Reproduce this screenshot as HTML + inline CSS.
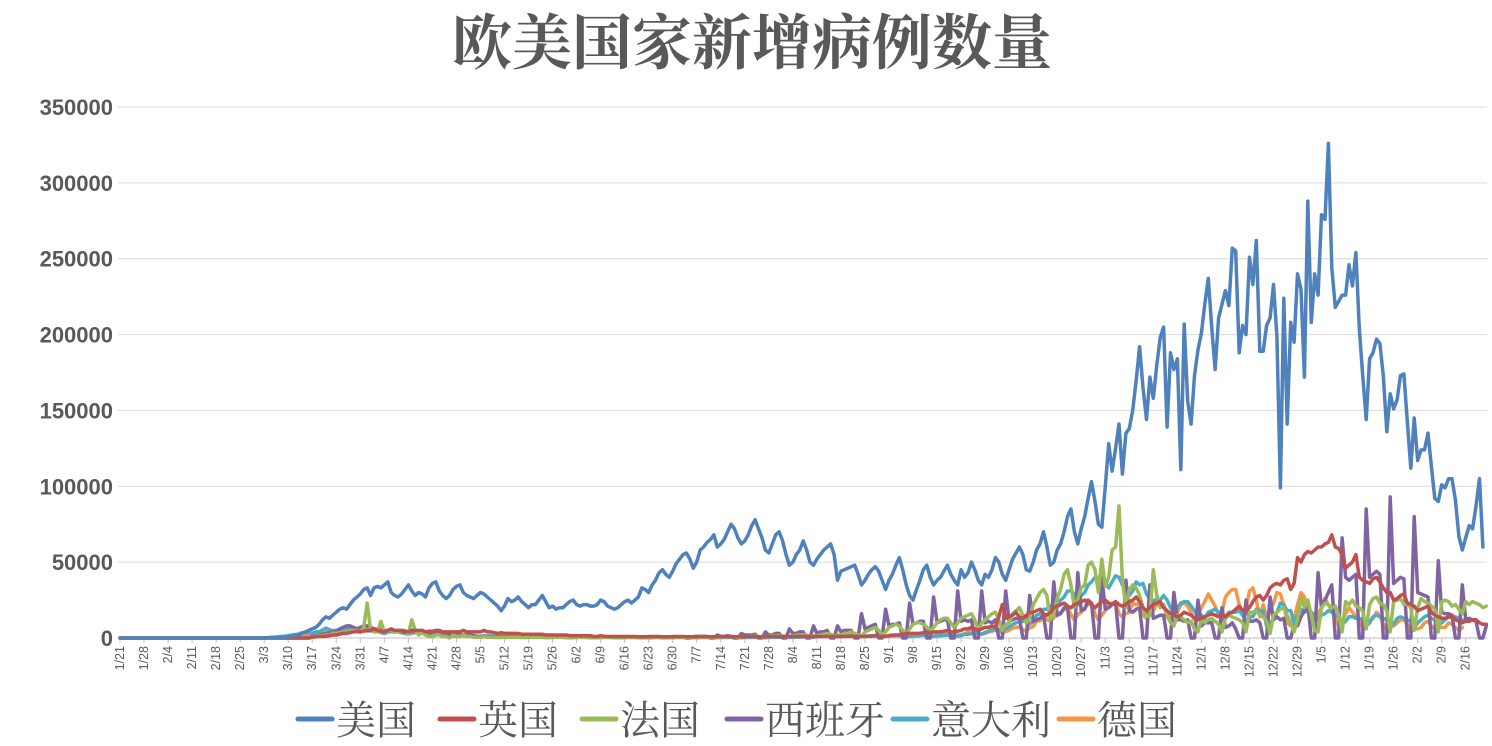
<!DOCTYPE html>
<html><head><meta charset="utf-8">
<style>
html,body{margin:0;padding:0;background:#fff;}
#wrap{position:relative;width:1492px;height:746px;overflow:hidden;font-family:"Liberation Sans","Noto Sans CJK SC",sans-serif;}
svg text{fill:#595959;}
</style></head>
<body>
<div id="wrap">
<svg id="chart" width="1492" height="746" xmlns="http://www.w3.org/2000/svg">
<text x="752" y="64" text-anchor="middle" font-family="'Noto Serif CJK SC','Liberation Serif',serif" font-weight="700" font-size="60">欧美国家新增病例数量</text>
<g id="grid"></g>
<g id="yaxis"></g>
<g id="xaxis"></g>
<g id="series"></g>
<g id="legend"></g>
</svg>
</div>
<script>
// tick labels
const yTicks=[0,50000,100000,150000,200000,250000,300000,350000];
const xTickLabels=["1/21","1/28","2/4","2/11","2/18","2/25","3/3","3/10","3/17","3/24","3/31","4/7","4/14","4/21","4/28","5/5","5/12","5/19","5/26","6/2","6/9","6/16","6/23","6/30","7/7","7/14","7/21","7/28","8/4","8/11","8/18","8/25","9/1","9/8","9/15","9/22","9/29","10/6","10/13","10/20","10/27","11/3","11/10","11/17","11/24","12/1","12/8","12/15","12/22","12/29","1/5","1/12","1/19","1/26","2/2","2/9","2/16"];
const seriesNames=["美国","英国","法国","西班牙","意大利","德国"];
// daily values in thousands
const usa=[0,0,0,0,0,0,0, 0,0,0,0,0,0,0, 0,0,0,0,0,0,0, 0,0,0,0,0,0,0, 0,0,0,0,0,0,0, 0,0,0,0,0,0,0,
0,0.1,0.2,0.3,0.4,0.5,0.6, 1,1,1.5,2,3,4,5, 6,7,9,12,14,13,15,
17,19,20,19,22,25,27, 29,32,33,28,33,34,33, 35,37,30,28,27,29,32, 35,31,28,30,29,27,33,
36,37,31,28,26,28,32, 34,35,30,28,27,26,28, 30,29,27,25,23,21,18, 21,26,24,25,27,24,22,
20,22,22,25,28,24,20, 21,19,20,20,22,24,25, 22,21,22,22,21,21,22, 25,24,21,20,19,20,22,
24,25,23,25,27,33,32, 30,35,38,43,45,42,40, 44,49,52,55,56,52,46, 50,58,60,63,65,68,60,
62,65,70,75,72,66,62, 64,68,74,78,72,66,58, 56,62,68,70,64,55,48, 50,55,58,64,58,50,48,
52,55,58,60,62,55,38, 44,45,46,47,48,42,35, 38,42,45,47,44,38,32, 38,42,48,53,45,35,28,
25,32,38,45,48,40,35, 38,40,44,48,42,38,35, 45,40,43,50,45,38,35, 42,40,45,53,50,42,38,
45,52,56,60,55,45,44, 50,58,62,70,60,48,50, 58,62,70,80,85,70,62, 72,80,92,103,90,75,73,
100,128,110,125,141,108,135,138,150,170,192,165,144,172,158,180,198,205,139,188,177,184,111,207,156,141,173,190,201,220,237,205,177,211,220,
229,219,257,255,188,206,200,251,233,262,189,189,206,211,233,199,99,224,141,208,195,240,230,172,288,208,240,226,279,276,326,244,218,222,
226,226,246,232,254,204,173,144,184,188,197,194,173,136,161,151,157,173,174,142,112,145,117,124,124,135,113,92,90,101,99,105,105,91,67,58,66,74,72,87,105,60];
const uk=[0,0,0,0,0,0,0, 0,0,0,0,0,0,0, 0,0,0,0,0,0,0, 0,0,0,0,0,0,0, 0,0,0,0,0,0,0, 0,0,0,0,0,0,0, 0,0,0,0,0,0,0, 0,0,0,0,0,0,0,
0.5,0.7,1,1,1.2,1.5,2, 2,2.5,3,3,3.5,4,4.5, 4,4.5,5,5,6,5,4.5, 4,5,6,5,5,5,4.5, 4,5,5,5,5,4,4.5, 4.5,5,5,4,4,4,4, 4,4,5,4,4,4,4,
4,5,4,4,3.5,3,3.5, 3,3,3,3,3,2.5,2.5, 2.5,2.5,2.5,2.5,2.5,2,2, 2,2,2,2,2,1.5,1.5, 1.5,1.5,1.5,1.5,1.5,1,1, 1.5,1.2,1,1,1,1,1,
1,1,1,1,0.8,0.8,0.8, 1,1,1,1,0.8,0.8,0.8, 1,1,1,1,0.8,0.8,0.8, 1,1,1,1,0.8,0.8,0.8, 1,1,1,1,0.8,0.8,0.8, 1,1,1,1,0.8,0.8,0.8,
1,1,1,1,1,1,1, 1,1,1,1,1,1,1, 1,1,1,1,1,1,1, 1,1,1.2,1.2,1,1,1, 1,1.2,1.2,1.5,1.2,1,1.2,
1.5,2,2,2,2.5,3,3, 3,3,3,3.5,4,3.5,4, 4,4,4.5,5,4,4,4.5, 5,6,6,7,6,5,6, 7,7,8,7,14,22,13, 14,15,17,14,13,15,17,
17,18,19,16,15,17,20, 21,22,23,21,20,22,23, 24,25,24,22,20,22,24, 25,23,22,24,22,21,22, 24,25,27,24,20,18,20, 22,23,24,20,18,16,15,
14,15,17,16,15,13,12, 13,14,15,16,15,14,15, 14,16,17,19,21,18,20, 20,24,27,28,25,28,33, 35,36,35,38,39,32,36, 53,50,55,57,56,58,60,
60,62,63,68,60,59,55, 46,48,50,55,40,38,37, 36,39,40,37,33,30,30, 25,26,28,29,23,22,21, 18,19,20,21,17,15,14, 13,13,14,15,12,11,10, 11,11,12,12,10,9,9];
const france=[0,0,0,0,0,0,0, 0,0,0,0,0,0,0, 0,0,0,0,0,0,0, 0,0,0,0,0,0,0, 0,0,0,0,0,0,0, 0,0,0,0,0,0,0, 0,0,0,0,0,0,0, 0,0,0,0,0,0,0,
0.5,1,1.5,1.5,2,2,3, 3,3.5,4,4,4.5,5,5, 4,7,23,5,4,4,11, 4,5,5,4,4,5,5, 3,12,5,2,4,2,1, 1,2,2,1,1,0,2, 1,1,2,1,1,0.5,0.5,
0.5,0.8,0.5,0.5,0.5,0.3,0.3, 0.5,0.5,0.5,0.5,0.5,0.3,0.3, 0.5,0.5,0.5,0.5,0.5,0.3,0.3, 0.5,0.5,0.5,0.5,0.5,0.3,0.3, 0.5,0.5,0.5,0.5,0.5,0.3,0.3,
0.5,0.5,0.5,0.5,0.5,0.3,0.3, 0.5,0.5,0.5,0.5,0.5,0.3,0.3, 0.5,0.5,0.5,0.5,0.5,0.3,0.3, 0.5,0.5,0.5,0.5,0.5,0.3,0.3, 0.5,0.6,0.6,0.6,0.6,0.3,0.4,
0.6,0.8,0.8,1,0.8,0.4,0.6, 1,1,1.2,1.3,1,0.5,0.8, 1.2,1.4,1.5,1.6,1.4,0.8,1, 1.5,1.8,2,2.2,2,1,1.5, 1.5,2,2.5,2.8,2.5,1.2,2,
2,3,3,4,3,2,1, 4,5,6,7,5,2,4, 7,8,9,8,5,3,6, 9,10,10,9,7,5,7, 10,12,13,13,10,7,10, 13,14,15,16,12,5,10, 12,14,16,17,12,5,9,
10,16,18,20,15,10,13, 22,26,30,32,28,12,16, 26,32,42,45,35,20,26, 33,35,48,50,45,30,52, 34,40,58,60,87,38,20, 32,35,33,28,20,14,15,
45,28,20,22,16,10,8, 15,14,12,10,11,6,4, 12,10,12,13,11,9,4, 13,15,14,13,12,10,4, 17,17,18,15,14,11,3, 15,17,19,20,15,10,4,
12,27,20,25,15,5,4, 20,23,22,20,21,15,4, 24,22,25,21,20,18,6, 22,26,27,23,22,18,4, 24,25,26,22,23,20,5, 20,26,24,23,21,19,4, 24,25,24,21,22,19,16, 24,22,24,23,22,20,21];
const spain=[0,0,0,0,0,0,0, 0,0,0,0,0,0,0, 0,0,0,0,0,0,0, 0,0,0,0,0,0,0, 0,0,0,0,0,0,0, 0,0,0,0,0,0,0, 0,0,0,0,0,0,0, 0,0,0,0,0,0,0,
1,1.5,2,2.5,3,3.5,4, 4,6,7,8,8,7,6, 7,8,8,7,6,5,6, 5,5,5,5,4,4,4, 4,5,4,4,3,3,3, 4,4,4,3,3,2,2, 2,2,2,2,2,1.5,1,
1,1,1,1,0.8,0.8,1, 1,1,1,1,0.8,0.8,1, 0.8,0.8,0.8,0.8,0.5,0.5,0.8, 0.5,0.5,0.5,0.5,0.3,0.3,0.5, 0.5,0.5,0.5,0.5,0.3,0.3,0.5, 0.5,0.5,0.5,0.5,0.3,0.3,0.5,
0.5,0.5,0.5,0.5,0.3,0.3,0.5, 0.5,0.5,0.5,0.5,0.3,0.3,0.8, 0.5,0.6,0.7,0.8,0,0,1, 1,1,1,1,0,0,2, 1,1,1.5,1,0,0,3, 2,2,2,2.5,0,0,4,
2,2,3,3,0,0,6, 3,3,4,4,0,0,8, 3,4,4,5,0,0,8, 4,5,5,5,0,0,16, 6,7,8,9,0,0,19, 8,9,9,10,0,0,23, 9,10,11,11,0,0,27, 10,11,12,12,0,0,31,
11,12,11,12,0,0,31, 10,11,10,12,0,0,31, 11,12,13,13,0,0,28, 11,12,13,15,0,0,37, 15,16,20,20,0,0,43, 18,19,25,23,0,0,40, 19,20,22,23,0,0,38,
18,17,19,20,0,0,35, 13,14,15,15,0,0,30, 12,12,11,12,0,0,25, 8,10,10,10,0,0,20, 7,8,10,6,0,0,25, 11,11,12,10,0,0,27, 12,14,12,13,0,0,8,
8,14,18,22,0,0,43, 20,25,30,35,0,0,66, 40,38,40,42,0,0,85, 40,42,44,42,0,0,93, 36,38,40,39,0,0,80, 30,29,28,27,0,0,51, 17,16,16,15,0,0,35, 12,13,12,11,0,0,8];
const italy=[0,0,0,0,0,0,0, 0,0,0,0,0,0,0, 0,0,0,0,0,0,0, 0,0,0,0,0,0,0, 0,0,0,0,0,0,0, 0,0,0,0,0,0,0,
0.1,0.2,0.5,0.5,0.8,1,1.2, 1.5,2,2.3,2.6,3.5,3.6,3.5, 3.2,4,4.2,5.3,6.5,5.5,4.8, 5.2,5.2,6,6.2,5.9,5.2,4, 4,4.8,4.6,4.8,4.3,4.3,3.6,
3,3.8,4.2,3.9,4.7,3.9,3.1, 2.9,3.8,3.5,3.5,3.1,3.4,3, 2.3,2.7,3.4,3,2.8,2.3,2.3, 2.1,2.1,1.9,1.9,1.9,1.4,1.2, 1.1,1.4,1.4,1.3,1.1,0.8,0.7,
0.9,0.9,0.9,0.8,0.9,0.7,0.5, 0.6,0.6,0.6,0.6,0.5,0.4,0.3, 0.5,0.5,0.5,0.4,0.4,0.3,0.3, 0.4,0.4,0.4,0.3,0.3,0.3,0.2, 0.3,0.3,0.3,0.3,0.3,0.2,0.2,
0.3,0.3,0.3,0.3,0.3,0.2,0.2, 0.2,0.2,0.3,0.3,0.2,0.2,0.2, 0.2,0.3,0.3,0.3,0.2,0.2,0.2, 0.2,0.3,0.3,0.3,0.3,0.2,0.2, 0.3,0.3,0.4,0.3,0.3,0.3,0.2,
0.3,0.3,0.4,0.4,0.3,0.3,0.2, 0.4,0.4,0.5,0.5,0.5,0.4,0.3, 0.5,0.6,0.6,0.8,0.7,0.6,0.5, 0.8,1,1,1.1,1.2,1,0.9, 1,1.2,1.4,1.3,1.1,1.1,1,
1.3,1.4,1.6,1.7,1.6,1.3,1, 1.4,1.5,1.6,1.6,1.5,1.3,1, 1.2,1.5,1.6,1.9,1.6,1.4,1, 1.4,1.6,1.8,1.9,1.9,1.8,1.3, 1.6,2.5,2.5,2.8,3.5,3,2.5,
3.7,4.5,5.4,5.7,5.4,4.6,5.9, 7.3,8.8,10,10.9,10.9,11.7,9.3, 11,15,16,19,19,21,17, 22,25,27,31,31,29,22, 28,30,35,37,40,39,33,
36,33,37,41,40,35,32, 28,31,37,35,36,29,26, 24,26,25,28,25,20,17, 20,23,24,24,21,18,14, 15,13,17,18,19,17,12, 14,17,17,17,18,15,11,
14,14,19,18,18,8,10, 12,17,23,22,18,18,10, 15,19,17,18,17,15,12, 15,16,18,17,15,14,9, 11,14,14,13,13,12,8, 10,14,15,14,13,12,8,
9,13,14,13,12,11,7, 10,12,14,15,13,12,9, 10,12,14,13,14,13,12];
const germany=[0,0,0,0,0,0,0, 0,0,0,0,0,0,0, 0,0,0,0,0,0,0, 0,0,0,0,0,0,0, 0,0,0,0,0,0,0, 0,0,0,0,0,0,0, 0,0,0,0,0,0,0,
0.5,0.8,1,1.3,1.6,2,2.5, 1.5,2,3,3.5,4,5.5,4, 4.8,5,6,6.3,6.9,6.8,4.8, 4.9,6.2,6.6,6.1,6.1,5.9,3.7, 4,5,4.9,4.7,3.9,3.5,2.9,
2.5,2.9,3.7,3.4,3.6,2.5,1.8, 1.9,2.2,2.4,2.3,2,1.7,1.2, 1.3,1.5,1.6,1.5,1.2,0.9,0.6, 0.7,1.2,1.2,1,0.9,0.7,0.4,
0.6,0.9,0.9,0.8,0.7,0.5,0.4, 0.6,0.8,0.7,0.7,0.6,0.4,0.3, 0.5,0.7,0.6,0.6,0.5,0.4,0.3, 0.4,0.6,0.7,1,0.8,0.5,0.4, 0.5,0.6,0.6,0.6,0.5,0.4,0.3,
0.5,0.6,0.6,0.7,0.5,0.3,0.3, 0.4,0.6,0.6,0.6,0.5,0.3,0.3, 0.5,0.6,0.7,0.7,0.6,0.4,0.3, 0.5,0.6,0.7,0.8,0.6,0.4,0.4, 0.6,0.8,0.9,1,0.8,0.5,0.5,
0.7,1,1.1,1.2,1,0.6,0.7, 0.9,1.2,1.4,1.5,1.2,0.8,0.9, 1,1.4,1.6,1.7,1.4,0.9,1, 1.1,1.5,1.7,1.6,1.3,0.8,1, 1,1.5,1.5,1.5,1.2,0.7,1,
1.2,1.3,1.5,1.4,1.3,0.8,1.1, 1.5,1.5,1.9,2,1.4,0.9,1.3, 1.7,2,2.2,2.1,1.8,1.1,1.6, 2.2,2.4,2.5,2.9,2,1.4,2, 2.1,2.8,4,4.5,3.5,2.5,2.5,
3,4,4.5,5,4.5,3.5,4.2, 5.1,6.6,7,7.3,5.6,4.3,6.8, 7.6,11,11.3,14.6,12,11.2,13.4, 14.9,16.8,18.7,20.1,15.6,11.7,15.4, 17,20,22,23,16,12,15,
18,22,23,23,16,14,16, 17,23,22,23,15,13,15, 18,22,23,22,14,11,13, 17,22,23,21,17,12,15, 20,24,29,25,21,15,17, 27,30,32,32,22,16,20,
31,33,25,14,22,14,18, 23,30,29,22,10,8,12, 22,30,27,19,15,12,16, 20,26,22,18,13,8,11, 16,20,17,14,12,7,9, 11,13,17,15,9,5,7,
8,10,12,12,9,4,6, 6,7,10,11,8,6,8, 7,7,10,9,7,5,7];
const seriesData=[usa,uk,france,spain,italy,germany];
const seriesColors=["#4f81bd","#c0504d","#9bbb59","#8064a2","#4bacc6","#f79646"];

const NS="http://www.w3.org/2000/svg";
const X0=120, DX=3.433, Y0=638, YTOP=107, YMAX=350000;
function xs(d){return X0+d*DX;}
function ys(v){return Y0-(v/YMAX)*(Y0-YTOP);}
function mk(tag,attrs,parent){const e=document.createElementNS(NS,tag);for(const k in attrs)e.setAttribute(k,attrs[k]);parent.appendChild(e);return e;}

const grid=document.getElementById('grid'), yaxis=document.getElementById('yaxis'), xaxis=document.getElementById('xaxis');
yTicks.forEach(t=>{
  const y=ys(t);
  const l=mk('line',{x1:118,x2:1487,y1:y,y2:y,stroke:t===0?'#bfbfbf':'#d9d9d9','stroke-width':1},grid);
  
  
  const tx=mk('text',{x:113,y:y+8,'text-anchor':'end','font-size':22,'font-weight':'bold'},yaxis);
  tx.textContent=String(t);
  
  
});
xTickLabels.forEach((lab,i)=>{
  const x=xs(i*7);
  const tk=mk('line',{x1:x,x2:x,y1:638,y2:643,stroke:'#bfbfbf','stroke-width':1},xaxis);
  
  
  const tx=mk('text',{x:0,y:0,'text-anchor':'end','font-size':12.5,transform:`translate(${x+4},646) rotate(-90)`},xaxis);
  tx.textContent=lab;
  
  
});
const sg=document.getElementById('series');
const order=[5,4,3,2,1,0];
order.forEach(si=>{
  const arr=seriesData[si];
  const pts=arr.map((v,d)=>xs(d).toFixed(1)+','+ys(v*1000).toFixed(1)).join(' ');
  const pl=mk('polyline',{points:pts,fill:'none',stroke:seriesColors[si],'stroke-width':3.5,'stroke-linejoin':'round','stroke-linecap':'round'},sg);
  
  
});
const lg=document.getElementById('legend');
const legX=[298,440,582,727,893,1059];
seriesNames.forEach((n,i)=>{
  const g=mk('g',{},lg);
  
  
  mk('line',{x1:legX[i],x2:legX[i]+34,y1:719,y2:719,stroke:seriesColors[i],'stroke-width':5,'stroke-linecap':'round'},g);
  const t=mk('text',{x:legX[i]+38,y:734,'font-size':40,'font-family':"'Noto Serif CJK SC','Liberation Serif',serif"},g);
  t.textContent=n;
});
</script>
</body></html>
